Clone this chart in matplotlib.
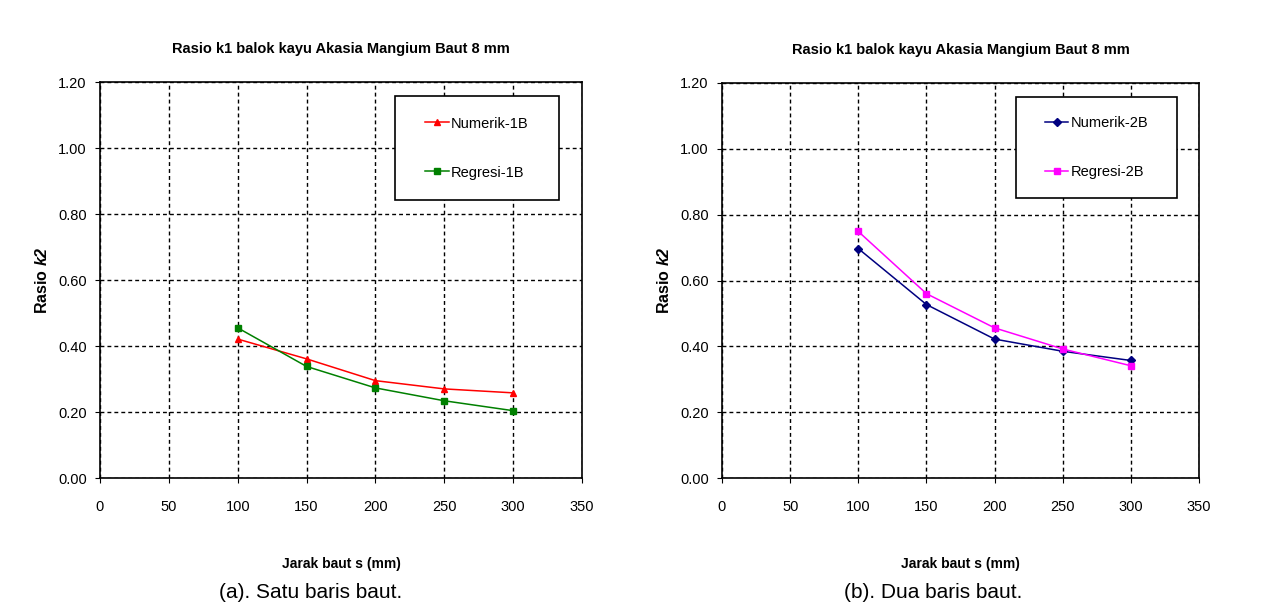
import matplotlib.pyplot as plt
import matplotlib.patches as mpatches

plt.rcParams['font.family'] = ['Liberation Sans', 'DejaVu Sans']
plt.rcParams['mathtext.fontset'] = 'custom'
plt.rcParams['mathtext.bfit'] = 'Liberation Sans:italic:bold'

# data
jarak = [100, 150, 200, 250, 300]
numerik_1b = [0.421, 0.361, 0.295, 0.270, 0.258]
regresi_1b = [0.455, 0.338, 0.273, 0.234, 0.204]
numerik_2b = [0.697, 0.527, 0.422, 0.385, 0.357]
regresi_2b = [0.749, 0.560, 0.456, 0.392, 0.341]

x_ticks = [0, 50, 100, 150, 200, 250, 300, 350]
y_ticks = [0.0, 0.2, 0.4, 0.6, 0.8, 1.0, 1.2]

judul = "Rasio k1 balok kayu Akasia Mangium Baut 8 mm"
captions = ["(a). Satu baris baut.", "(b). Dua baris baut."]

W, H = 1269, 607
fig = plt.figure(figsize=(W / 100, H / 100), dpi=100)

panels = [
    dict(rect=[100, 129, 482, 396], legend_box=(395, 96, 164, 104), cap_x=311,
         series=[(numerik_1b, 'Numerik-1B', '#ff0000', '^'),
                 (regresi_1b, 'Regresi-1B', '#008000', 's')]),
    dict(rect=[722, 129, 477, 395], legend_box=(1016, 97, 161, 101), cap_x=933,
         series=[(numerik_2b, 'Numerik-2B', '#000080', 'D'),
                 (regresi_2b, 'Regresi-2B', '#ff00ff', 's')]),
]

for i, p in enumerate(panels):
    l, b, w, h = p['rect']
    ax = fig.add_axes([l / W, b / H, w / W, h / H])
    for vals, lab, col, mk in p['series']:
        ms = 4 if mk == 'D' else 5
        ax.plot(jarak, vals, color=col, marker=mk, markersize=ms, lw=1.1, label=lab)
    ax.set_xlim(0, 350)
    ax.set_ylim(0, 1.2)
    ax.set_xticks(x_ticks)
    ax.set_yticks(y_ticks)
    ax.set_yticklabels([f"{v:.2f}" for v in y_ticks])
    ax.grid(True, color='black', linestyle=(0, (2.8, 2.2)), linewidth=1.0)
    ax.tick_params(labelsize=10.5, direction='out', length=3.5, color='black')
    ax.tick_params(axis='x', pad=12)
    ax.tick_params(axis='y', pad=6)
    for s in ax.spines.values():
        s.set_linewidth(1.2)
    ax.set_title(judul, fontsize=10.5, fontweight='bold', pad=21)
    ax.set_xlabel("Jarak baut s (mm)", fontsize=10, fontweight='bold', labelpad=31)
    ax.set_ylabel(r"Rasio $\mathbfit{k2}$", fontsize=11.5, fontweight='bold',
                  labelpad=6)

    # legend box
    lx, ly, lw_, lh = p['legend_box']
    x0 = (lx - l) / w
    y0 = ((H - ly - lh) - b) / h
    ax.add_patch(mpatches.Rectangle((x0, y0), lw_ / w, lh / h, transform=ax.transAxes,
                                    facecolor='white', edgecolor='black', lw=1.2,
                                    zorder=5))
    leg = ax.legend(loc='center', bbox_to_anchor=(x0, y0, lw_ / w, lh / h),
                    frameon=False, fontsize=10.5, labelspacing=2.4,
                    handlelength=1.6, handletextpad=0.15)
    leg.set_zorder(6)

    fig.text(p['cap_x'] / W, 1 - 593 / H, captions[i], ha='center', va='center',
             fontsize=15)

fig.savefig("out.png", dpi=100)
